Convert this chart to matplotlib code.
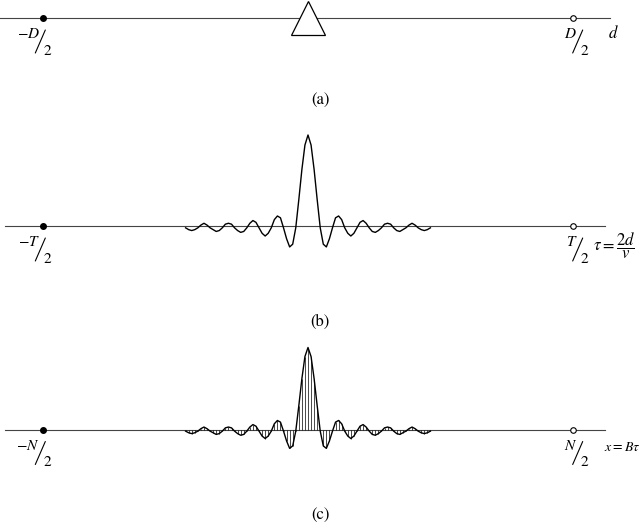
import numpy as np
import matplotlib.pyplot as plt
from matplotlib.transforms import ScaledTranslation

plt.rcParams['font.family'] = ['STIXGeneral', 'DejaVu Serif']
plt.rcParams['mathtext.fontset'] = 'stix'

# sample index (x = B*tau) and the pulse amplitude
n = np.arange(-40, 41)
amp = [-0.02, -0.04, -0.05, -0.04, -0.02, 0.01, 0.03, 0.01,
       -0.02, -0.04, -0.06, -0.05, -0.02, 0.02, 0.03, 0.02,
       -0.02, -0.05, -0.07, -0.06, -0.02, 0.03, 0.06, 0.04,
       -0.02, -0.08, -0.11, -0.08, -0.02, 0.07, 0.11, 0.09,
       -0.02, -0.14, -0.23, -0.20, -0.02, 0.29, 0.62, 0.89,
       1.00,
       0.89, 0.62, 0.29, -0.02, -0.20, -0.23, -0.14, -0.02,
       0.09, 0.11, 0.07, -0.02, -0.08, -0.11, -0.08, -0.02,
       0.04, 0.06, 0.03, -0.02, -0.06, -0.07, -0.05, -0.02,
       0.02, 0.03, 0.02, -0.02, -0.05, -0.06, -0.04, -0.02,
       0.01, 0.03, 0.01, -0.02, -0.04, -0.05, -0.04, -0.02]

# end points of each axis (same sample units)
ends = [-86.5, 86.5]
end_labels_a = [r'$-D$', r'$D$']
end_labels_b = [r'$-T$', r'$T$']
end_labels_c = [r'$-N$', r'$N$']
line_a = [-100.6, 98.7]
line_bc = [-99.0, 97.0]

W, H = 640, 526
fig = plt.figure(figsize=(W / 100, H / 100), dpi=100)
PT = 0.72  # points per pixel


def panel(top_px, bot_px, base_px, scale_px):
    # axes spanning the full width, baseline at y=0
    ax = fig.add_axes([0, 1 - bot_px / H, 1, (bot_px - top_px) / H])
    ax.set_xlim(-308 / 3.06, (W - 308) / 3.06)
    ax.set_ylim((base_px - bot_px) / scale_px, (base_px - top_px) / scale_px)
    ax.axis('off')
    return ax


def frac_label(ax, x, top, s):
    # numerator up-left, long thin slash, 2 down-right; s = slash centre offset (px)
    kw = dict(xycoords='data', textcoords='offset points', va='center')
    ax.annotate(top, (x, 0), xytext=((s - 0.5) * PT, -16 * PT), ha='right', fontsize=11, **kw)
    ax.annotate(r'$2$', (x, 0), xytext=((s + 2.5) * PT, -33 * PT), ha='left', fontsize=11, **kw)
    start = ax.transData + ScaledTranslation((s - 5) * PT / 72, -35 * PT / 72, fig.dpi_scale_trans)
    ax.annotate('', xy=(x, 0), xycoords=start, xytext=(10 * PT, 23 * PT),
                textcoords='offset points',
                arrowprops=dict(arrowstyle='-', lw=0.8, color='black', shrinkA=0, shrinkB=0))


def axis_line(ax, xs, labels):
    ax.plot(xs, [0, 0], color='#444444', lw=0.8)
    ax.plot(ends[0], 0, 'o', ms=4, color='black')
    ax.plot(ends[1], 0, 'o', ms=4, mfc='white', mec='black', mew=0.8)
    frac_label(ax, ends[0], labels[0], -3)
    frac_label(ax, ends[1], labels[1], 5)


# (a) array geometry
ax_a = panel(0, 60, 18, 1.0)
axis_line(ax_a, line_a, end_labels_a)
ax_a.plot(0, 0, '^', ms=25, mfc='white', mec='black', mew=0.9)
fig.text(613 / W, 1 - 33 / H, r'$d$', fontsize=12, ha='center', va='center')
fig.text(320 / W, 1 - 100 / H, '(a)', fontsize=12, ha='center', va='center')

# (b) continuous pulse in time
ax_b = panel(110, 290, 226, 91)
axis_line(ax_b, line_bc, end_labels_b)
ax_b.plot(n, amp, color='black', lw=1.0)
fig.text(614 / W, 1 - 246 / H, r'$\tau=\dfrac{2d}{v}$', fontsize=12, ha='center', va='center')
fig.text(320 / W, 1 - 322 / H, '(b)', fontsize=12, ha='center', va='center')

# (c) sampled pulse
ax_c = panel(330, 480, 429.5, 82)
axis_line(ax_c, line_bc, end_labels_c)
ax_c.vlines(n, 0, amp, color='black', lw=0.5)
ax_c.plot(n, amp, color='black', lw=1.0)
fig.text(622 / W, 1 - 447 / H, r'$x=B\tau$', fontsize=10, ha='center', va='center')
fig.text(320 / W, 1 - 515 / H, '(c)', fontsize=12, ha='center', va='center')

fig.savefig('out.png', dpi=100)
